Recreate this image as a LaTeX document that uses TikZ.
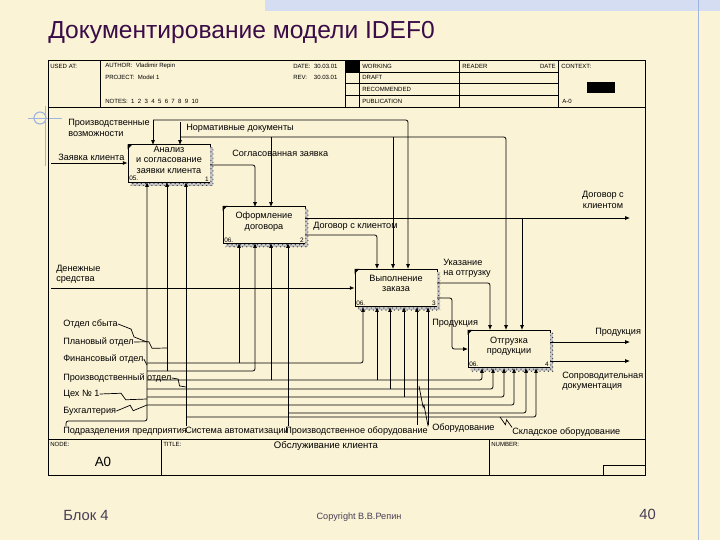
\documentclass[tikz,border=0pt]{standalone}
\usepackage{fontspec}
\setmainfont{Liberation Sans}
\usetikzlibrary{arrows.meta,patterns,calc}
\definecolor{slidebg}{RGB}{251,243,214}
\definecolor{titlecol}{RGB}{58,12,72}
\definecolor{footcol}{RGB}{70,62,84}
\definecolor{decoblue}{RGB}{160,180,225}
\newcommand{\lzig}[2]{\draw[zig] (#1) -- ($(#1)!0.45!(#2)+(0,-3)$) -- ($(#1)!0.55!(#2)+(0,3)$) -- (#2);}
\begin{document}
\begin{tikzpicture}[x=0.025cm,y=-0.025cm,
  lbl/.style={font=\fontsize{6.5}{7.4}\selectfont,inner sep=0pt,align=left},
  hdr/.style={font=\fontsize{4.3}{5}\selectfont,inner sep=0pt,anchor=west},
  act/.style={draw,line width=0.6pt,fill=slidebg,minimum width=2.05cm,minimum height=0.94cm,inner sep=0pt},
  num/.style={font=\fontsize{4.6}{5}\selectfont,inner sep=1pt},
  arr/.style={line width=0.55pt,rounded corners=1.6pt,-{Latex[length=3.4pt,width=2.8pt]}},
  frm/.style={line width=0.6pt},
  shd/.style={fill=black!22,postaction={pattern=crosshatch dots,pattern color=black!75}},
  zig/.style={line width=0.5pt}]
\useasboundingbox (0,0) rectangle (720,540);
\fill[slidebg] (0,0) rectangle (720,540);
% slide decoration
\fill[decoblue!45] (265,0) rectangle (720,11);
\draw[decoblue] (698,0) -- (698,540);
\draw[decoblue,line width=0.8pt] (40,118) circle (6);
\draw[decoblue] (28,118) -- (62,118);
\draw[decoblue] (45,106) -- (45,166);
\node[font=\fontsize{17.5}{20}\selectfont,text=titlecol,anchor=west,inner sep=0pt] (ttl) at (48,32) {Документирование модели IDEF0};
% frame
\draw[frm] (48,60) rectangle (645,475);
\draw[frm] (48,107) -- (645,107);
\draw[frm] (100,60) -- (100,107);
\foreach \x in {345,359,459,558} \draw[frm] (\x,60) -- (\x,107);
\foreach \y in {72,83,95} \draw[frm] (345,\y) -- (558,\y);
\fill (345,60) rectangle (359,72);
\fill (587,82) rectangle (615,93);
\draw[frm] (48,439) -- (645,439);
\draw[frm] (161,439) -- (161,475);
\draw[frm] (489,439) -- (489,475);
\draw[frm] (603,465) rectangle (645,475);
\node[hdr] (usd) at (50,66) {USED AT:};
\node[hdr] (aut) at (105,66) {AUTHOR:\ \ Vladimir Repin};
\node[hdr] (prj) at (105,77) {PROJECT:\ \ Model 1};
\node[hdr] (nts) at (105,101) {NOTES:\ \ 1\ \ 2\ \ 3\ \ 4\ \ 5\ \ 6\ \ 7\ \ 8\ \ 9\ \ 10};
\node[hdr] (dat) at (293,66) {DATE:\ \ 30.03.01};
\node[hdr] (rev) at (293,77) {REV:\ \ \ \ 30.03.01};
\node[hdr] (wrk) at (362,66) {WORKING};
\node[hdr] (drf) at (362,77) {DRAFT};
\node[hdr] (rec) at (362,89) {RECOMMENDED};
\node[hdr] (pub) at (362,101) {PUBLICATION};
\node[hdr] (rdr) at (462,66) {READER};
\node[hdr,anchor=east] (rdt) at (556,66) {DATE};
\node[hdr] (ctx) at (561,66) {CONTEXT:};
\node[hdr] (ctn) at (562,101) {A-0};
\node[hdr] (nod) at (50,444) {NODE:};
\node[hdr] (tit) at (163,444) {TITLE:};
\node[hdr] (nbr) at (491,444) {NUMBER:};
\node[lbl,font=\fontsize{6.8}{7.6}\selectfont] (ttn) at (326,446) {Обслуживание клиента};
\node[font=\fontsize{9.5}{10}\selectfont,inner sep=0pt] (a0) at (103,462) {A0};
% activity boxes
\node[act] (b1) at (169,163.5) {};
\node[act] (b2) at (264,225) {};
\node[act] (b3) at (396,288) {};
\node[act] (b4) at (509,349) {};
\foreach \b in {b1,b2,b3,b4}{
  \path[shd] ($(\b.north east)+(0,3)$) rectangle ($(\b.south east)+(3,3)$);
  \path[shd] ($(\b.south west)+(3,0)$) rectangle ($(\b.south east)+(0,3)$);
  \fill (\b.north west) -- ++(5,0) -- ++(-5,5) -- cycle;
}
\node[lbl,align=center] (b1t) at (169,159.5) {Анализ\\и согласование\\заявки клиента};
\node[lbl,align=center] (b2t) at (264,221.5) {Оформление\\договора};
\node[lbl,align=center] (b3t) at (396,283.5) {Выполнение\\заказа};
\node[lbl,align=center] (b4t) at (509,346) {Отгрузка\\продукции};
\node[num,anchor=south west] (n1a) at (b1.south west) {05.};
\node[num,anchor=south east] (n1b) at (b1.south east) {1};
\node[num,anchor=south west] (n2a) at (b2.south west) {06.};
\node[num,anchor=south east] (n2b) at (b2.south east) {2};
\node[num,anchor=south west] (n3a) at (b3.south west) {06.};
\node[num,anchor=south east] (n3b) at (b3.south east) {3};
\node[num,anchor=south west] (n4a) at (b4.south west) {06.};
\node[num,anchor=south east] (n4b) at (b4.south east) {4};
% arrow ends on the boxes
\coordinate (c11) at (153,145); \coordinate (c12) at (180,145);
\coordinate (c21) at (255,207); \coordinate (c22) at (271,207);
\coordinate (c31) at (377,269); \coordinate (c32) at (393,269); \coordinate (c33) at (408,269);
\coordinate (c41) at (490,330); \coordinate (c42) at (506,330); \coordinate (c43) at (522,330);
\coordinate (m11) at (147,182); \coordinate (m12) at (167,182); \coordinate (m13) at (186,182);
\coordinate (m21) at (239,243); \coordinate (m22) at (255,243); \coordinate (m23) at (271,243); \coordinate (m24) at (288,243);
\coordinate (m31) at (363,307); \coordinate (m32) at (377,307); \coordinate (m33) at (390,307);
\coordinate (m34) at (404,307); \coordinate (m35) at (417,307); \coordinate (m36) at (428,307);
\coordinate (m41) at (482,368); \coordinate (m42) at (493,368); \coordinate (m43) at (504,368);
\coordinate (m44) at (514,368); \coordinate (m45) at (526,368); \coordinate (m46) at (536,368);
% inputs and controls
\node[lbl,anchor=west] (zk) at (58,157) {Заявка клиента};
\coordinate (zin) at (51,163);
\draw[arr] (zin) -- (zin -| b1.west);
\node[lbl,anchor=west] (pv) at (68,128) {Производственные\\возможности};
\coordinate (pvs) at (153,120);
\draw[arr] (pvs) -- (c11);
\draw[arr] (pvs) -| (c33);
\node[lbl,anchor=west] (nd) at (186,128) {Нормативные документы};
\coordinate (nds) at (180,122);
\coordinate (ndj) at (180,137);
\draw[arr] (nds) -- (c12);
\draw[arr] (ndj) -| (c42);
\draw[arr] (ndj -| c22) -- (c22);
\draw[arr] (ndj -| c32) -- (c32);
\node[lbl,anchor=west] (sz) at (232,153) {Согласованная заявка};
\coordinate (o11) at (210,165);
\draw[arr] (o11) -| (c21);
\node[lbl,anchor=west] (dk2) at (313,226) {Договор с клиентом};
\coordinate (o21) at (305,218); \coordinate (dke) at (630,218);
\draw[arr] (o21) -- (dke);
\draw[arr] (o21 -| c43) -- (c43);
\node[lbl,align=center] (dk1) at (603,200) {Договор с\\клиентом};
\coordinate (o22) at (305,235);
\draw[arr] (o22) -| (c31);
\node[lbl,anchor=west] (ds) at (56,274) {Денежные\\средства};
\coordinate (dsn) at (51,288);
\draw[arr] (dsn) -- (dsn -| b3.west);
\node[lbl,anchor=west] (uk) at (443,268) {Указание\\на отгрузку};
\coordinate (o31) at (437,283);
\draw[arr] (o31) -| (c41);
\node[lbl,anchor=west] (pr1) at (432,323) {Продукция};
\coordinate (o32) at (437,298); \coordinate (i41) at (468,349);
\draw[arr] (o32) -- (452,298) |- (i41);
\node[lbl,anchor=west] (pr2) at (595,332) {Продукция};
\coordinate (o41) at (550,342); \coordinate (pre) at (630,342);
\draw[arr] (o41) -- (pre);
\node[lbl,anchor=west] (sd) at (562,381) {Сопроводительная\\документация};
\coordinate (o42) at (550,361); \coordinate (sde) at (630,361);
\draw[arr] (o42) -- (sde);
% mechanisms
\node[lbl,anchor=west] (pdp) at (63,431) {Подразделения предприятия};
\coordinate (pps) at (66,426); \coordinate (tr) at (147,421);
\draw[arr] (pps) |- (tr) -- (m11);
\coordinate (d1) at (147,363); \coordinate (d2) at (147,371); \coordinate (d3) at (147,380);
\coordinate (d4) at (147,389); \coordinate (d5) at (147,397); \coordinate (d6) at (147,405);
\draw[arr] (d1) -| (m31);
\draw[arr] (d1 -| m21) -- (m21);
\draw[arr] (d2) -| (m22);
\draw[arr] (d2 -| m12) -- (m12);
\draw[arr] (d3) -| (m41);
\draw[arr] (d3 -| m23) -- (m23);
\draw[arr] (d3 -| m32) -- (m32);
\draw[arr] (d4) -| (m42);
\draw[arr] (d4 -| m33) -- (m33);
\draw[arr] (d5) -| (m43);
\draw[arr] (d5 -| m34) -- (m34);
\draw[arr] (d6) -| (m44);
\node[lbl,anchor=west] (sa) at (185,431) {Система автоматизации};
\coordinate (sas) at (186,426); \coordinate (s7) at (186,417);
\draw[arr] (sas) -- (m13);
\draw[arr] (s7) -| (m46);
\node[lbl,anchor=west] (po) at (285,431) {Производственное оборудование};
\coordinate (pos) at (288,426); \coordinate (s8) at (288,413);
\draw[arr] (pos) -- (m24);
\draw[arr] (s8) -| (m45);
\coordinate (pqs) at (417,425);
\draw[arr] (pqs) -- (m35);
\coordinate (pqz) at (419,386);
\lzig{po.north east}{pqz}
\node[lbl,anchor=west] (ob) at (432,428) {Оборудование};
\coordinate (obs) at (428,425);
\draw[arr] (obs) -- (m36);
\node[lbl,anchor=west] (sk) at (512,432) {Складское оборудование};
\coordinate (skz) at (500,417);
\lzig{sk.north west}{skz}
% departments
\node[lbl,anchor=west] (os) at (63,324) {Отдел сбыта};
\node[lbl,anchor=west] (plo) at (63,342) {Плановый отдел};
\node[lbl,anchor=west] (fo) at (63,359) {Финансовый отдел};
\node[lbl,anchor=west] (pro) at (63,378) {Производственный отдел};
\node[lbl,anchor=west] (ceh) at (63,394) {Цех № 1};
\node[lbl,anchor=west] (bu) at (63,411) {Бухгалтерия};
\coordinate (osz) at (147,342); \lzig{os.east}{osz}
\coordinate (plz) at (167,348); \lzig{plo.east}{plz}
\coordinate (foz) at (147,365); \draw[zig] (fo.east) -- (foz);
\coordinate (proz) at (186,387); \lzig{pro.east}{proz}
\coordinate (cehz) at (147,399); \lzig{ceh.east}{cehz}
\coordinate (buz) at (147,405); \lzig{bu.east}{buz}
% footer
\node[font=\fontsize{10.5}{12}\selectfont,text=footcol,anchor=west,inner sep=0pt] (blk) at (63,515) {Блок 4};
\node[font=\fontsize{6.5}{8}\selectfont,text=footcol,inner sep=0pt] (cpr) at (359,517) {Copyright В.В.Репин};
\node[font=\fontsize{10.5}{12}\selectfont,text=footcol,anchor=east,inner sep=0pt] (pg) at (656,514) {40};
\end{tikzpicture}
\end{document}
